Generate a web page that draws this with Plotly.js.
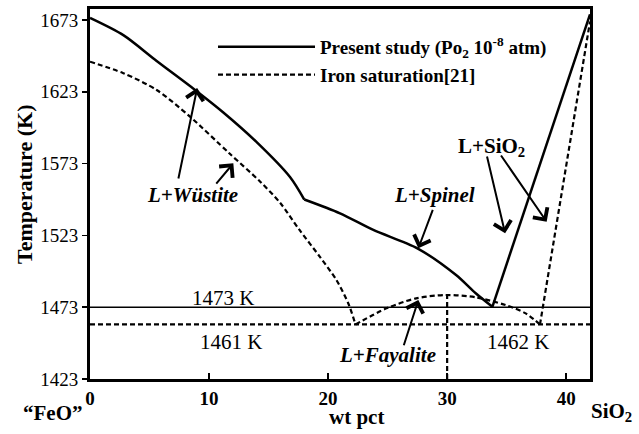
<!DOCTYPE html>
<html>
<head>
<meta charset="utf-8">
<script src="https://cdn.plot.ly/plotly-3.0.1.min.js"></script>
<style>html,body{margin:0;padding:0;background:#fff;}#chart{width:639px;height:434px;}</style>
</head>
<body>
<div id="chart"></div>
<script>
// Present study (pO2 1e-8 atm) liquidus, wt pct SiO2 vs K — wustite, spinel and SiO2 branches
const presentWustiteX = [0, 2.8, 5.6, 8.8, 11.15, 14.0, 16.8, 18.0];
const presentWustiteY = [1674.5, 1662.5, 1644.5, 1624.5, 1609, 1588, 1563.7, 1548];
const presentSpinelX = [18.0, 21.0, 23.8, 27.5, 30.75, 32.4, 33.8];
const presentSpinelY = [1548, 1538.4, 1526.8, 1514, 1495.4, 1482.7, 1473.3];
const presentSilicaX = [33.8, 42];
const presentSilicaY = [1473.3, 1677];
// Iron saturation [21] — wustite, fayalite and SiO2 branches
const ironWustiteX = [0, 2.8, 5.6, 8.4, 11.7, 14.3, 16.0, 17.6, 19.3, 20.7, 21.7, 22.3];
const ironWustiteY = [1644, 1636, 1624.3, 1605.7, 1580.2, 1560.4, 1545.4, 1526.8, 1508.2, 1491.9, 1475.6, 1461];
const ironFayaliteX = [22.3, 24.9, 27.4, 29.9, 32.4, 34.9, 36.6, 37.8];
const ironFayaliteY = [1461, 1472.2, 1479.2, 1481.5, 1479.9, 1474.5, 1468.7, 1461];
const ironSilicaX = [37.8, 42];
const ironSilicaY = [1461, 1672];
// Isotherms and fayalite composition
const isoPresentX = [0, 42];
const isoPresentY = [1473, 1473];
const isoIronX = [0, 42];
const isoIronY = [1461, 1461];
const fayaliteX = [30, 30];
const fayaliteY = [1423, 1481.5];
// Axis ticks
const xTicks = [0, 10, 20, 30, 40];
const yTicks = [1423, 1473, 1523, 1573, 1623, 1673];
const seriesNames = ['Present study (Po<sub>2</sub> 10<sup>-8</sup> atm)', 'Iron saturation[21]'];

const serif = 'Liberation Serif, Times New Roman, serif';
const dashPat = '5px,3px';
const solidLine = {color: '#000', width: 2.5, shape: 'spline', smoothing: 0.8};
const dashLine = {color: '#000', width: 2.2, dash: dashPat, shape: 'spline', smoothing: 0.8};

const traces = [
  {x: presentWustiteX, y: presentWustiteY, mode: 'lines', name: seriesNames[0], legendgroup: 'p', line: solidLine},
  {x: ironWustiteX, y: ironWustiteY, mode: 'lines', name: seriesNames[1], legendgroup: 'i', line: dashLine},
  {x: presentSpinelX, y: presentSpinelY, mode: 'lines', legendgroup: 'p', showlegend: false, line: solidLine},
  {x: presentSilicaX, y: presentSilicaY, mode: 'lines', legendgroup: 'p', showlegend: false, line: solidLine},
  {x: ironFayaliteX, y: ironFayaliteY, mode: 'lines', legendgroup: 'i', showlegend: false, line: dashLine},
  {x: ironSilicaX, y: ironSilicaY, mode: 'lines', legendgroup: 'i', showlegend: false, line: dashLine},
  {x: isoPresentX, y: isoPresentY, mode: 'lines', showlegend: false, line: {color: '#000', width: 1.5}},
  {x: isoIronX, y: isoIronY, mode: 'lines', showlegend: false, line: {color: '#000', width: 2.2, dash: dashPat}},
  {x: fayaliteX, y: fayaliteY, mode: 'lines', showlegend: false, line: {color: '#000', width: 2.2, dash: dashPat}}
];

function arrow(tx, ty, fx, fy) {
  return {x: tx, y: ty, ax: fx, ay: fy, xref: 'x', yref: 'y', axref: 'x', ayref: 'y',
    text: '', showarrow: true, arrowhead: 4, arrowsize: 1.7, arrowwidth: 2, arrowcolor: '#000'};
}
function label(x, y, text, opts) {
  return Object.assign({x: x, y: y, xref: 'x', yref: 'y', text: text, showarrow: false,
    xanchor: 'center', yanchor: 'middle',
    font: {family: serif, size: 20, color: '#000'}}, opts || {});
}
function paperLabel(px, py, text, font, extra) {
  return Object.assign({xref: 'paper', yref: 'paper', x: (px - 90) / 500, y: (379 - py) / 370,
    xanchor: 'center', yanchor: 'middle', text: text, showarrow: false, font: font}, extra || {});
}
const bi = {font: {family: serif, size: 21, color: '#000', weight: 'bold', style: 'italic'}};
const b = {font: {family: serif, size: 21, color: '#000', weight: 'bold'}};
const reg = {font: {family: serif, size: 21, color: '#000'}};
const titleFont = {family: serif, size: 21, color: '#000', weight: 'bold'};

const annotations = [
  arrow(9.0, 1625.6, 7.4, 1561.6),
  arrow(12.04, 1573.2, 10.5, 1558.1),
  arrow(27.58, 1514.0, 28.84, 1541.9),
  arrow(34.87, 1524.5, 33.32, 1579),
  arrow(38.36, 1532.5, 34.44, 1579.7),
  arrow(27.58, 1478.0, 26.32, 1445.5),
  label(8.65, 1551.1, 'L+Wüstite', bi),
  label(28.9, 1551.1, 'L+Spinel', bi),
  label(33.7, 1584.5, 'L+SiO<sub>2</sub>', b),
  label(25.03, 1439.7, 'L+Fayalite', bi),
  label(11.17, 1479.6, '1473 K', reg),
  label(11.84, 1448.8, '1461 K', reg),
  label(35.95, 1448.8, '1462 K', reg),
  paperLabel(356, 417, 'wt pct', titleFont),
  paperLabel(52, 413, '“FeO”', titleFont),
  paperLabel(611, 412, 'SiO<sub>2</sub>', titleFont),
  paperLabel(24, 185, 'Temperature (K)', {family: serif, size: 22, color: '#000', weight: 'bold'}, {textangle: -90})
];

const layout = {
  width: 639, height: 434,
  margin: {l: 90, r: 49, t: 9, b: 55, pad: 0},
  paper_bgcolor: '#fff', plot_bgcolor: '#fff',
  font: {family: serif, color: '#000'},
  showlegend: true,
  legend: {x: (213 - 90) / 500, y: (379 - 28) / 370, xanchor: 'left', yanchor: 'top',
    bgcolor: 'rgba(0,0,0,0)', itemwidth: 97, tracegroupgap: 0,
    font: {family: serif, size: 19, color: '#000', weight: 'bold'}},
  xaxis: {range: [0, 42], tickvals: xTicks, ticktext: xTicks.map(String), showgrid: false, zeroline: false,
    showline: true, linewidth: 3, linecolor: '#000', mirror: true,
    ticks: 'inside', ticklen: 6, tickwidth: 1.5, tickcolor: '#000',
    tickfont: {family: serif, size: 19, color: '#000', weight: 'bold'}},
  yaxis: {range: [1423, 1680.7], tickvals: yTicks, ticktext: yTicks.map(String), showgrid: false, zeroline: false,
    showline: true, linewidth: 3, linecolor: '#000', mirror: true,
    ticks: 'outside', ticklen: 5, tickwidth: 1.5, tickcolor: '#000',
    tickfont: {family: serif, size: 19, color: '#000'}},
  annotations: annotations
};

Plotly.newPlot('chart', traces, layout, {displayModeBar: false, staticPlot: true});
</script>
</body>
</html>
